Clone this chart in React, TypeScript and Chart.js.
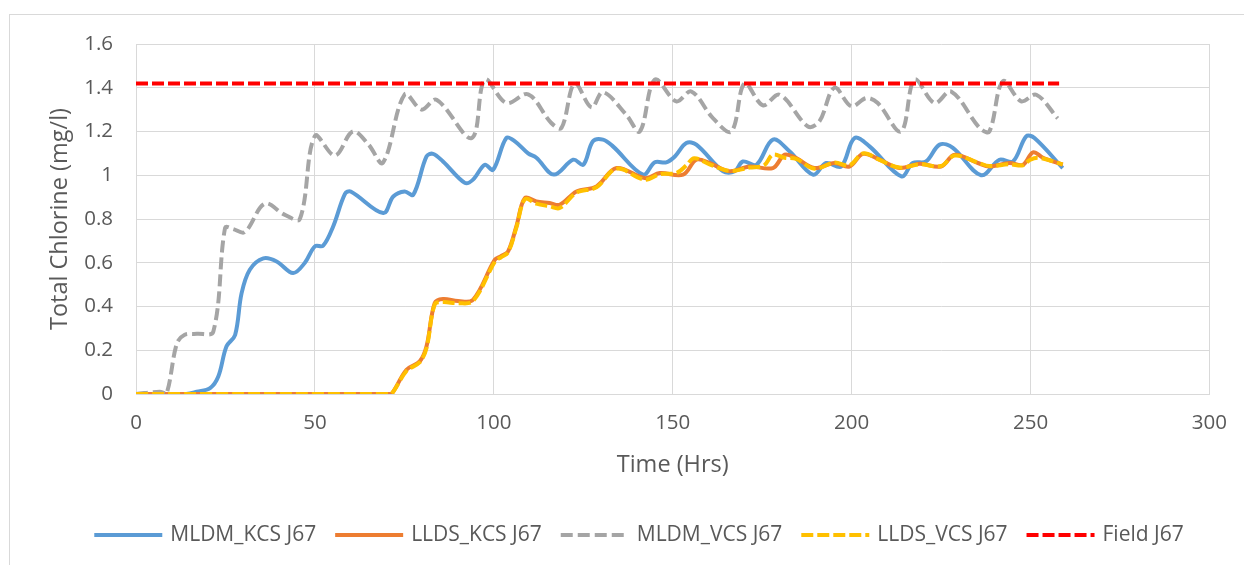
import { useEffect, useRef } from "react";
import { Chart, registerables } from "chart.js";

Chart.register(...registerables);

// Total chlorine at junction J67 over time, four model runs plus the field value
const mldmKcsHours = [0, 14, 17, 20.7, 23, 25.3, 27.7, 29.5, 31.8, 35.6, 39.3, 43.9, 47.2, 50, 52.3, 55.1, 58.4, 60, 69.1, 71.9, 75.1, 77.5, 81.2, 83, 85.8, 91.9, 94.2, 97.5, 99.8, 103.5, 105.9, 109.6, 111.9, 116.8, 122.2, 125, 127.7, 130.5, 133.3, 141.7, 145, 148.2, 150.6, 153.8, 156.6, 164.1, 167.3, 169.6, 173.4, 178, 182.7, 189.2, 192.9, 197.1, 200.8, 205, 213.9, 217.1, 220.8, 224.6, 228.3, 236.2, 241.3, 245.1, 248.8, 251.1, 259];
const mldmKcsValues = [0, 0, 0.01, 0.027, 0.08, 0.218, 0.27, 0.46, 0.568, 0.62, 0.606, 0.553, 0.6, 0.675, 0.678, 0.766, 0.915, 0.926, 0.827, 0.903, 0.926, 0.911, 1.086, 1.098, 1.063, 0.965, 0.98, 1.048, 1.025, 1.17, 1.155, 1.1, 1.08, 1.003, 1.071, 1.048, 1.155, 1.163, 1.132, 1.003, 1.059, 1.059, 1.086, 1.147, 1.14, 1.018, 1.018, 1.063, 1.048, 1.163, 1.109, 1.003, 1.056, 1.04, 1.17, 1.132, 0.995, 1.056, 1.063, 1.14, 1.125, 1.0, 1.071, 1.063, 1.178, 1.17, 1.033];

const lldsKcsHours = [0, 70, 71.4, 75.6, 79.3, 81.2, 83.5, 85.8, 90, 94.2, 100.3, 102, 104, 106.3, 108.7, 111.9, 115.6, 118.4, 123.1, 128.7, 134.3, 142.2, 146.4, 152.9, 156.6, 160.3, 165.9, 171.5, 178, 181.3, 184.5, 189.6, 195.2, 199.4, 203.2, 207.8, 213.4, 219, 225, 228.8, 235.3, 238.5, 244.1, 247.9, 250.7, 253.5, 259];
const lldsKcsValues = [0, 0, 0, 0.111, 0.149, 0.218, 0.416, 0.434, 0.425, 0.431, 0.614, 0.63, 0.652, 0.766, 0.896, 0.88, 0.873, 0.865, 0.926, 0.949, 1.033, 0.987, 1.01, 1.003, 1.071, 1.056, 1.018, 1.04, 1.033, 1.094, 1.078, 1.033, 1.056, 1.04, 1.098, 1.071, 1.033, 1.053, 1.04, 1.094, 1.056, 1.04, 1.056, 1.048, 1.105, 1.08, 1.048];

const mldmVcsHours = [0, 6.7, 8.5, 11.4, 13.5, 17, 21.6, 24.9, 27, 30.4, 36, 41.5, 45.8, 50, 55.6, 60.6, 65, 69, 75.1, 79.8, 84, 93.8, 97.5, 103.5, 109.6, 116, 118.9, 122.6, 127.3, 130.5, 137, 140.8, 145, 151, 155.2, 161.3, 166.4, 170.1, 175.2, 179.9, 187.8, 191, 195.2, 199.9, 204.1, 207.3, 213.8, 217.6, 223.2, 227.8, 235.8, 238.5, 242.3, 247.4, 251.6, 257.6];
const mldmVcsValues = [0, 0.01, 0, 0.23, 0.27, 0.275, 0.285, 0.76, 0.755, 0.74, 0.87, 0.82, 0.8, 1.18, 1.09, 1.2, 1.14, 1.057, 1.37, 1.3, 1.345, 1.17, 1.437, 1.33, 1.37, 1.24, 1.216, 1.42, 1.31, 1.38, 1.277, 1.2, 1.437, 1.338, 1.383, 1.26, 1.2, 1.42, 1.32, 1.368, 1.223, 1.246, 1.4, 1.315, 1.353, 1.33, 1.2, 1.437, 1.33, 1.383, 1.216, 1.2, 1.43, 1.338, 1.368, 1.26];

const lldsVcsHours = [0, 70, 71.4, 75.6, 79.3, 81.2, 83.5, 85.8, 90, 94.2, 100.3, 102, 104, 106.3, 108.7, 111.9, 115.6, 118.4, 123.1, 128.7, 134.3, 142.2, 146.4, 151, 153.8, 156, 160.3, 165.9, 171.5, 175.5, 178, 181.3, 184.5, 189.6, 195.2, 199.4, 203.2, 207.8, 213.4, 219, 225, 228.8, 235.3, 238.5, 244.1, 247.9, 249.8, 252.3, 259];
const lldsVcsValues = [0, 0, 0, 0.105, 0.145, 0.21, 0.41, 0.42, 0.415, 0.425, 0.605, 0.625, 0.648, 0.76, 0.89, 0.87, 0.858, 0.85, 0.92, 0.945, 1.03, 0.98, 1.005, 1.01, 1.045, 1.078, 1.05, 1.02, 1.035, 1.045, 1.094, 1.08, 1.075, 1.03, 1.058, 1.045, 1.1, 1.07, 1.035, 1.05, 1.042, 1.09, 1.058, 1.042, 1.05, 1.045, 1.07, 1.08, 1.05];

const fieldHours = [0, 258];
const fieldValues = [1.42, 1.42];

const seriesLabels = ["MLDM_KCS J67", "LLDS_KCS J67", "MLDM_VCS J67", "LLDS_VCS J67", "Field J67"];

const FONT = '"Open Sans", "Noto Sans", sans-serif';
const TEXT = "#595959";
const GRID = "#d9d9d9";

function toPoints(hours: number[], values: number[]) {
  return hours.map((h, i) => ({ x: h, y: values[i] }));
}

// Legend drawn as a single centred row under the axis title
const rowLegend = {
  id: "rowLegend",
  afterDraw(chart: any) {
    const ctx = chart.ctx as CanvasRenderingContext2D;
    const sets = chart.data.datasets;
    const sample = 68;
    const textGap = 8;
    const itemGap = 19;
    const rowY = 535;
    const centreX = 639;
    ctx.save();
    ctx.font = `21px ${FONT}`;
    const widths = sets.map((ds: any) => sample + textGap + ctx.measureText(ds.label).width);
    const total = widths.reduce((a: number, b: number) => a + b, 0) + itemGap * (sets.length - 1);
    let x = centreX - total / 2;
    sets.forEach((ds: any, k: number) => {
      ctx.strokeStyle = ds.borderColor;
      ctx.lineWidth = ds.borderWidth;
      ctx.lineCap = "butt";
      ctx.setLineDash(ds.borderDash || []);
      ctx.beginPath();
      ctx.moveTo(x, rowY);
      ctx.lineTo(x + sample, rowY);
      ctx.stroke();
      ctx.setLineDash([]);
      ctx.fillStyle = TEXT;
      ctx.textAlign = "left";
      ctx.textBaseline = "middle";
      ctx.fillText(ds.label, x + sample + textGap, rowY);
      x += widths[k] + itemGap;
    });
    ctx.restore();
  },
};

export default function App() {
  const canvasRef = useRef<HTMLCanvasElement | null>(null);

  useEffect(() => {
    const canvas = canvasRef.current;
    if (!canvas) return;
    const common = { pointRadius: 0, pointHoverRadius: 0, tension: 0.35, fill: false, borderWidth: 4, borderCapStyle: "butt" as const };
    const chart = new Chart(canvas, {
      type: "line",
      data: {
        datasets: [
          { ...common, label: seriesLabels[0], data: toPoints(mldmKcsHours, mldmKcsValues), borderColor: "#5B9BD5", order: 4 },
          { ...common, label: seriesLabels[1], data: toPoints(lldsKcsHours, lldsKcsValues), borderColor: "#ED7D31", order: 3 },
          { ...common, label: seriesLabels[2], data: toPoints(mldmVcsHours, mldmVcsValues), borderColor: "#A5A5A5", borderDash: [12, 5], order: 2 },
          { ...common, label: seriesLabels[3], data: toPoints(lldsVcsHours, lldsVcsValues), borderColor: "#FFC000", borderDash: [12, 4], order: 1 },
          { ...common, label: seriesLabels[4], data: toPoints(fieldHours, fieldValues), borderColor: "#FF0000", borderDash: [12, 4], tension: 0, order: 0 },
        ],
      },
      options: {
        animation: false,
        responsive: false,
        devicePixelRatio: 1,
        layout: { padding: { left: 0, top: 44, right: 34, bottom: 71 } },
        plugins: { legend: { display: false }, tooltip: { enabled: false } },
        scales: {
          x: {
            type: "linear",
            min: 0,
            max: 300,
            afterFit: (scale: any) => {
              scale.height = 100;
            },
            ticks: { stepSize: 50, color: TEXT, font: { family: FONT, size: 20.5 }, padding: 17, maxRotation: 0 },
            grid: { color: GRID, lineWidth: 1, drawTicks: false },
            border: { color: GRID, width: 1 },
            title: { display: true, text: "Time (Hrs)", color: TEXT, font: { family: FONT, size: 23.5 }, padding: { top: 0, bottom: 15 } },
          },
          y: {
            type: "linear",
            min: 0,
            max: 1.6,
            afterFit: (scale: any) => {
              scale.width = 136;
            },
            ticks: {
              stepSize: 0.2,
              color: TEXT,
              font: { family: FONT, size: 20.5 },
              padding: 23,
              callback: (v: any) => String(Math.round(Number(v) * 10) / 10),
            },
            grid: { color: GRID, lineWidth: 1, drawTicks: false },
            border: { color: GRID, width: 1 },
            title: { display: true, text: "Total Chlorine (mg/l)", color: TEXT, font: { family: FONT, size: 23.5 }, padding: { top: 46, bottom: 0 } },
          },
        },
      },
      plugins: [rowLegend],
    });
    return () => chart.destroy();
  }, []);

  return (
    <div style={{ position: "fixed", left: 0, top: 0, width: 1244, height: 565, overflow: "hidden", background: "#ffffff" }}>
      <div style={{ position: "absolute", left: 9, top: 14, width: 1300, height: 620, border: "1px solid #d9d9d9", boxSizing: "border-box" }} />
      <canvas ref={canvasRef} width={1244} height={565} style={{ position: "absolute", left: 0, top: 0, display: "block" }} />
    </div>
  );
}
